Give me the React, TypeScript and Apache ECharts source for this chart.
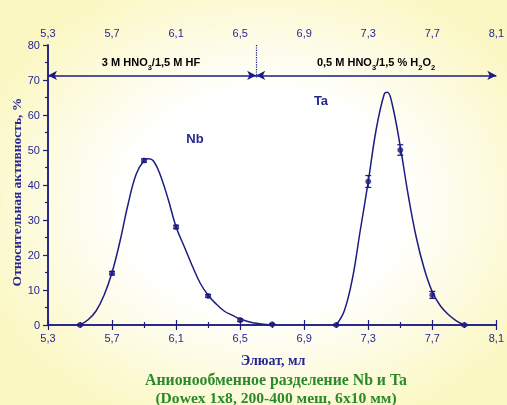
import React, { useEffect, useRef } from "react";
import * as echarts from "echarts";

// x offset so that ticks start at 5,3 with an interval of 0,4
const X0 = 5.3;
const xMaxVal = 8.1;
const xTickStep = 0.4;
const yTickStep = 10;

// measured points (Nb)
const nbX = [5.5, 5.7, 5.9, 6.1, 6.3, 6.5, 6.7];
const nbY = [0, 14.8, 47, 28, 8.3, 1.4, 0.2];
const nbErr = [0.2, 0.5, 0.5, 0.5, 0.4, 0.4, 0.2];

// measured points (Ta)
const taX = [7.1, 7.3, 7.5, 7.7, 7.9];
const taY = [0, 41, 50, 8.6, 0];
const taErr = [0.2, 1.7, 1.5, 1.0, 0.2];

// fitted curves
const nbCurveX = [5.5, 5.55, 5.6, 5.65, 5.7, 5.75, 5.8, 5.85, 5.9, 5.93, 5.96, 6.0, 6.05, 6.1, 6.15, 6.2, 6.25, 6.3, 6.35, 6.4, 6.45, 6.5, 6.55, 6.6, 6.7];
const nbCurveY = [0, 1.5, 4, 8.5, 15, 24, 34.5, 43, 47, 47.5, 46.8, 43, 36, 28, 22.5, 17, 12, 8.5, 6, 4, 2.8, 1.7, 1, 0.5, 0];
const taCurveX = [7.1, 7.15, 7.2, 7.25, 7.3, 7.35, 7.4, 7.42, 7.45, 7.5, 7.55, 7.6, 7.65, 7.7, 7.75, 7.8, 7.85, 7.9];
const taCurveY = [0, 4, 13, 27, 41, 56, 66, 66.5, 63, 51, 37, 25, 16, 9.5, 5.5, 3, 1.2, 0];

// eluent change
const switchX = 6.6;
const arrowY = 71.3;

const NAVY = "#1c1c82";
const TEXT = "#262690";
const GREEN = "#2a8a2a";

const fmtX = (v: number) => (v + X0).toFixed(1).replace(".", ",");

export default function App() {
  const ref = useRef<HTMLDivElement>(null);
  useEffect(() => {
    document.body.style.margin = "0";
    const chart = echarts.init(ref.current!, undefined, { renderer: "svg" });
    const xAxisCommon = {
      type: "value",
      min: 0,
      max: xMaxVal - X0,
      interval: xTickStep,
      axisLine: { show: true, lineStyle: { color: NAVY, width: 1.5 } },
      axisTick: { show: true, length: 5, lineStyle: { color: NAVY, width: 1.2 } },
      minorTick: { show: true, splitNumber: 2, length: 3, lineStyle: { color: NAVY, width: 1.2 } },
      axisLabel: { formatter: fmtX, color: TEXT, fontSize: 11, fontFamily: "Liberation Sans", margin: 7 },
      splitLine: { show: false },
    };
    const errData = (xs: number[], ys: number[], es: number[]) =>
      xs.map((x, i) => [x - X0, ys[i], es[i]]);
    const renderErr = (params: any, api: any) => {
      const x = api.value(0), y = api.value(1), e = api.value(2);
      const top = api.coord([x, y + e]);
      const bot = api.coord([x, y - e]);
      const w = 3;
      const st = { stroke: NAVY, lineWidth: 1.2 };
      return {
        type: "group",
        children: [
          { type: "line", shape: { x1: top[0], y1: top[1], x2: bot[0], y2: bot[1] }, style: st },
          { type: "line", shape: { x1: top[0] - w, y1: top[1], x2: top[0] + w, y2: top[1] }, style: st },
          { type: "line", shape: { x1: bot[0] - w, y1: bot[1], x2: bot[0] + w, y2: bot[1] }, style: st },
        ],
      };
    };
    const headerRich = {
      a: { fontSize: 11, fontWeight: "bold", fontFamily: "Liberation Sans", color: TEXT, lineHeight: 18, verticalAlign: "middle" },
      s: { fontSize: 7.5, fontWeight: "bold", fontFamily: "Liberation Sans", color: TEXT, lineHeight: 8, verticalAlign: "bottom" },
    };
    chart.setOption({
      animation: false,
      grid: { left: 48, right: 8, top: 45, bottom: 80, containLabel: false },
      xAxis: [
        { ...xAxisCommon, position: "bottom" },
        { ...xAxisCommon, position: "top" },
      ],
      yAxis: [
        {
          type: "value",
          min: 0,
          max: 80,
          interval: yTickStep,
          position: "left",
          axisLine: { show: true, lineStyle: { color: NAVY, width: 1.5 } },
          axisTick: { show: true, length: 5, lineStyle: { color: NAVY, width: 1.2 } },
          minorTick: { show: true, splitNumber: 2, length: 3, lineStyle: { color: NAVY, width: 1.2 } },
          axisLabel: { color: TEXT, fontSize: 11, fontFamily: "Liberation Sans", margin: 8 },
          splitLine: { show: false },
        },
        {
          type: "value",
          min: 0,
          max: 80,
          interval: yTickStep,
          position: "right",
          axisLine: { show: true, lineStyle: { color: NAVY, width: 1.5 } },
          axisTick: { show: false },
          axisLabel: { show: false },
          splitLine: { show: false },
        },
      ],
      series: [
        {
          type: "line",
          data: nbCurveX.map((x, i) => [x - X0, nbCurveY[i]]),
          smooth: 0.4,
          showSymbol: false,
          symbol: "none",
          lineStyle: { color: NAVY, width: 1.5 },
          silent: true,
          markLine: {
            silent: true,
            symbol: ["arrow", "arrow"],
            symbolSize: [7, 9],
            label: { show: false },
            lineStyle: { color: NAVY, width: 1.5, type: "solid" },
            data: [
              [{ coord: [0, arrowY] }, { coord: [switchX - X0, arrowY] }],
              [{ coord: [switchX - X0, arrowY] }, { coord: [xMaxVal - X0, arrowY] }],
            ],
          },
        },
        {
          type: "line",
          data: taCurveX.map((x, i) => [x - X0, taCurveY[i]]),
          smooth: 0.4,
          showSymbol: false,
          symbol: "none",
          lineStyle: { color: NAVY, width: 1.5 },
          silent: true,
          markLine: {
            silent: true,
            symbol: ["none", "none"],
            label: { show: false },
            lineStyle: { color: NAVY, width: 1.2, type: "dotted" },
            data: [[{ coord: [switchX - X0, 80] }, { coord: [switchX - X0, 70.5] }]],
          },
        },
        {
          type: "custom",
          renderItem: renderErr,
          data: [...errData(nbX, nbY, nbErr), ...errData(taX, taY, taErr)],
          silent: true,
        },
        {
          type: "scatter",
          data: [...nbX.map((x, i) => [x - X0, nbY[i]]), ...taX.map((x, i) => [x - X0, taY[i]])],
          symbol: "circle",
          symbolSize: 6,
          itemStyle: { color: NAVY },
          silent: true,
        },
      ],
      graphic: [
        {
          type: "text",
          x: 151,
          y: 62,
          style: {
            text: "{a|3 M HNO}{s|3}{a|/1,5 M HF}",
            rich: headerRich,
            align: "center",
            verticalAlign: "middle",
          },
        },
        {
          type: "text",
          x: 376,
          y: 62,
          style: {
            text: "{a|0,5 M HNO}{s|3}{a|/1,5 % H}{s|2}{a|O}{s|2}",
            rich: headerRich,
            align: "center",
            verticalAlign: "middle",
          },
        },
        {
          type: "text",
          x: 195,
          y: 138,
          style: { text: "Nb", fontSize: 13, fontWeight: "bold", fontFamily: "Liberation Sans", fill: TEXT, align: "center", verticalAlign: "middle" },
        },
        {
          type: "text",
          x: 321,
          y: 100,
          style: { text: "Ta", fontSize: 13, fontWeight: "bold", fontFamily: "Liberation Sans", fill: TEXT, align: "center", verticalAlign: "middle" },
        },
        {
          type: "text",
          x: 16,
          y: 192,
          rotation: Math.PI / 2,
          style: { text: "Относительная активность, %", fontSize: 13.5, fontWeight: "bold", fontFamily: "Liberation Serif", fill: TEXT, align: "center", verticalAlign: "middle" },
        },
        {
          type: "text",
          x: 273,
          y: 360,
          style: { text: "Элюат, мл", fontSize: 14, fontWeight: "bold", fontFamily: "Liberation Serif", fill: TEXT, align: "center", verticalAlign: "middle" },
        },
        {
          type: "text",
          x: 276,
          y: 379,
          style: { text: "Анионообменное разделение Nb и Ta", fontSize: 15.8, fontWeight: "bold", fontFamily: "Liberation Serif", fill: GREEN, align: "center", verticalAlign: "middle" },
        },
        {
          type: "text",
          x: 276,
          y: 397,
          style: { text: "(Dowex 1x8, 200-400 меш, 6x10 мм)", fontSize: 15.6, fontWeight: "bold", fontFamily: "Liberation Serif", fill: GREEN, align: "center", verticalAlign: "middle" },
        },
      ],
    });
    return () => chart.dispose();
  }, []);
  return (
    <div
      ref={ref}
      style={{
        position: "fixed",
        left: 0,
        top: 0,
        width: 507,
        height: 405,
        background: "radial-gradient(ellipse 60% 60% at 52% 50%, #ffffff 45%, #fbf7c2 100%)",
      }}
    />
  );
}
